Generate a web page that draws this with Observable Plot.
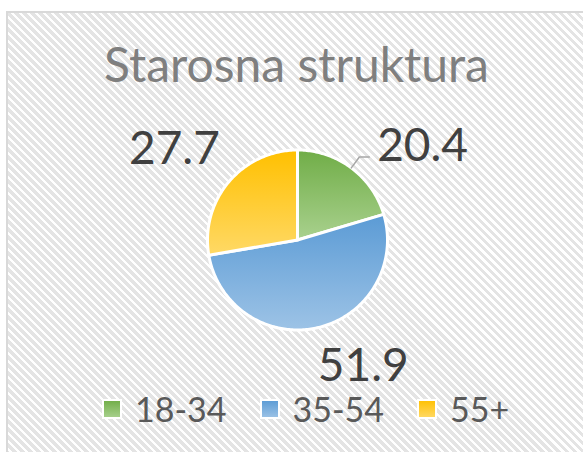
<!DOCTYPE html>
<html><head><meta charset="utf-8">
<script src="https://cdn.jsdelivr.net/npm/d3@7"></script>
<script src="https://cdn.jsdelivr.net/npm/@observablehq/plot@0.6"></script>
<style>
html,body{margin:0;padding:0;background:#fff;}
#wrap{position:relative;width:583px;height:452px;overflow:hidden;background:#fff;}
#frame{position:absolute;left:6px;top:11px;width:600px;height:470px;border:2px solid #d9d9d9;
 background:repeating-linear-gradient(45deg,#ffffff 0,#ffffff 2.6px,#e4e4e4 2.6px,#e4e4e4 5.66px);}
#title{position:absolute;left:0;width:593px;top:35px;text-align:center;font-family:Lato,sans-serif;font-size:48px;color:#7f7f7f;line-height:1.2;white-space:nowrap;}
#chart{position:absolute;left:0;top:100px;}
#legend{position:absolute;left:103px;top:390px;}
#legend .leg-swatches{font-family:Lato,sans-serif;font-size:34px;color:#595959;margin:0;line-height:1.1;min-height:0;}
#legend .leg-swatch{margin-right:34px;}
#legend .leg-swatch > svg{margin-right:14px;}
#legend .leg-swatch rect{stroke:#fff;stroke-width:2;}
</style>
</head><body>
<div id="wrap">
  <div id="frame"></div>
  <div id="title"></div>
  <div id="chart"></div>
  <div id="legend"></div>
</div>
<script>
// ---- data ----
const title = "Starosna struktura";
const categories = ["18-34", "35-54", "55+"];
const values = [20.4, 51.9, 27.7];
const valueLabels = ["20.4", "51.9", "27.7"];

// ---- styling ----
const topColors = ["#70ad47", "#5b9bd5", "#ffc000"];
const bottomColors = ["#a9d18e", "#9dc3e6", "#ffd966"];
const gradIds = categories.map((c, i) => `slice-grad-${i}`);
const labelNudge = [{dx: 39, dy: 22}, {dx: 33, dy: -14}, {dx: -13, dy: 2}];

document.getElementById("title").textContent = title;

const rows = categories.map((c, i) => ({category: c, value: values[i], label: valueLabels[i], i}));
const arcs = d3.pie().sort(null).value(d => d.value)(rows);

// polygon outline of each slice (unit circle, angles clockwise from 12 o'clock)
function slicePolygon(a) {
  const pts = [{x: 0, y: 0}];
  const n = Math.max(2, Math.ceil((a.endAngle - a.startAngle) / (Math.PI / 180)));
  for (let k = 0; k <= n; ++k) {
    const t = a.startAngle + (a.endAngle - a.startAngle) * k / n;
    pts.push({x: Math.sin(t), y: Math.cos(t)});
  }
  pts.push({x: 0, y: 0});
  return pts;
}
const mid = a => (a.startAngle + a.endAngle) / 2;

const defs = () => {
  const d = d3.create("svg:defs");
  arcs.forEach((a, i) => {
    const g = d.append("linearGradient").attr("id", gradIds[i])
      .attr("x1", 0).attr("y1", 0).attr("x2", 0).attr("y2", 1);
    g.append("stop").attr("offset", "0%").attr("stop-color", topColors[i]);
    g.append("stop").attr("offset", "100%").attr("stop-color", bottomColors[i]);
  });
  return d.node();
};

const sliceMarks = arcs.map((a, i) =>
  Plot.line(slicePolygon(a), {
    x: "x", y: "y", curve: "linear",
    fill: `url(#${gradIds[i]})`, stroke: "#ffffff", strokeWidth: 3, strokeLinejoin: "round"
  })
);

// leader line for the first (green) slice
const g0 = arcs[0], m0 = mid(g0);
const leader = [
  {x: Math.sin(m0), y: Math.cos(m0)},
  {x: 1.15 * Math.sin(m0), y: 1.15 * Math.cos(m0)},
  {x: 1.15 * Math.sin(m0) + 0.11, y: 1.15 * Math.cos(m0)}
];

const labelMarks = arcs.map((a, i) =>
  Plot.text([a], {
    x: d => 1.6 * Math.sin(mid(d)),
    y: d => 1.6 * Math.cos(mid(d)),
    text: d => d.data.label,
    dx: labelNudge[i].dx, dy: labelNudge[i].dy,
    fontSize: 46, fill: "#404040", textAnchor: "middle"
  })
);

const chart = Plot.plot({
  width: 583,
  height: 290,
  x: {domain: [-1, 1], range: [207, 387], axis: null},
  y: {domain: [-1, 1], range: [229.5, 49.5], axis: null},
  style: {background: "transparent", fontFamily: "Lato, sans-serif", overflow: "visible"},
  marks: [
    defs,
    ...sliceMarks,
    Plot.line(leader, {x: "x", y: "y", stroke: "#a6a6a6", strokeWidth: 1.5, curve: "linear"}),
    ...labelMarks
  ]
});
document.getElementById("chart").append(chart);

const legend = Plot.legend({
  color: {type: "ordinal", domain: categories, range: gradIds.map(id => `url(#${id})`)},
  legend: "swatches",
  className: "leg",
  swatchSize: 18
});
document.getElementById("legend").append(legend);
</script>
</body></html>
